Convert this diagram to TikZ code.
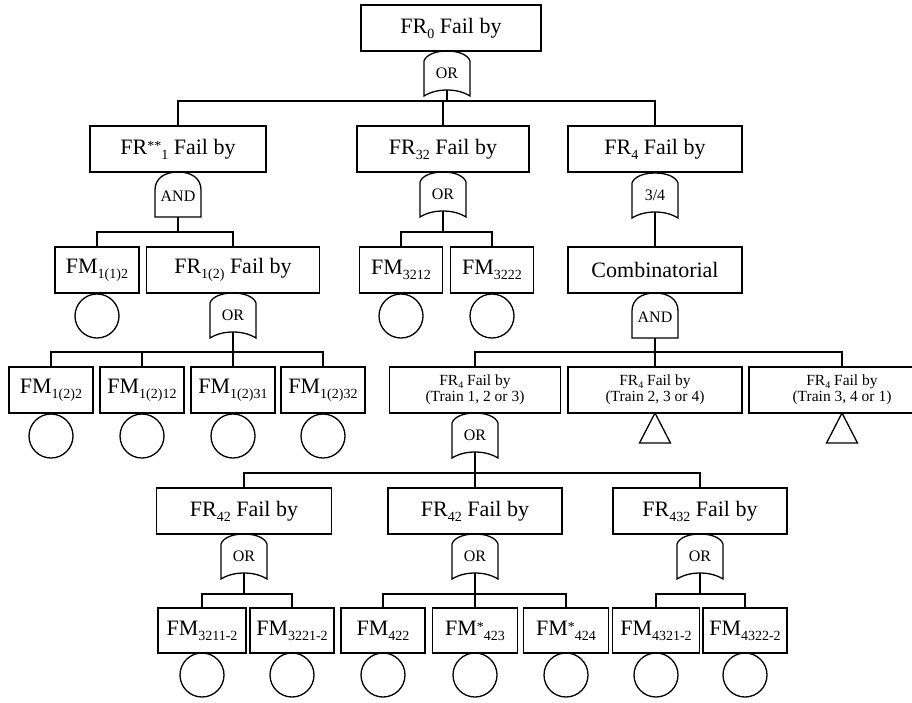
\documentclass[tikz,border=0pt]{standalone}
\usepackage{fontspec}
\setmainfont{Liberation Serif}
\newcommand\bigf{\fontsize{22}{26}\selectfont}
\newcommand\smf{\fontsize{15.5}{16.5}\selectfont}
\newcommand\gf{\fontsize{16}{16}\selectfont}
\newcommand\sbb[1]{\raisebox{-5pt}{\fontsize{14}{14}\selectfont #1}}
\newcommand\spb[1]{\raisebox{4pt}{\fontsize{14}{14}\selectfont #1}}
\newcommand\sbs[1]{\raisebox{-3.5pt}{\fontsize{10}{10}\selectfont #1}}
\tikzset{
 box/.style={draw, line width=1.3pt, minimum height=46pt, inner sep=0pt, font=\bigf},
 fmbox/.style={box, minimum height=45pt},
 sbox/.style={box, align=center, font=\smf},
 ev/.style={draw, circle, line width=1.3pt, minimum size=44pt, inner sep=0pt},
 glbl/.style={inner sep=0pt, minimum width=46pt, minimum height=34pt, font=\gf},
 gline/.style={line width=1.3pt, line join=miter},
 wire/.style={line width=1.3pt},
}
% OR-type gate: name, centre x, top y, label
\newcommand\orgate[4]{%
 \draw[gline] (#2-23,#3+45) -- (#2-23,#3+10)
   .. controls (#2-21,#3+4) and (#2-12,#3) .. (#2,#3)
   .. controls (#2+12,#3) and (#2+21,#3+4) .. (#2+23,#3+10)
   -- (#2+23,#3+45)
   .. controls (#2+15,#3+40) and (#2+6,#3+39) .. (#2,#3+39)
   .. controls (#2-6,#3+39) and (#2-15,#3+40) .. (#2-23,#3+45) -- cycle;
 \node[glbl] (#1) at (#2,#3+22) {#4};
}
% AND gate: name, centre x, top y
\newcommand\andgate[3]{%
 \draw[gline] (#2-23,#3+45) -- (#2-23,#3+18)
   .. controls (#2-23,#3+6) and (#2-13,#3) .. (#2,#3)
   .. controls (#2+13,#3) and (#2+23,#3+6) .. (#2+23,#3+18)
   -- (#2+23,#3+45) -- cycle;
 \node[glbl, minimum height=42pt] (#1) at (#2,#3+24) {AND};
}
% transfer triangle: name, apex x, apex y
\newcommand\transfer[3]{%
 \coordinate (#1) at (#2,#3);
 \draw[gline] (#1) -- ++(15.5,30) -- ++(-31,0) -- cycle;
}
\begin{document}
\begin{tikzpicture}[x=1pt,y=-1pt]
\useasboundingbox (0,0) rectangle (912,702);
\clip (0,0) rectangle (912,702);

% ---- level 0
\node[box, minimum width=180pt] (b0) at (451,28) {FR\sbb{0} Fail by};
\orgate{g0}{447}{51}{OR}
\coordinate (h0) at (447,101);

% ---- level 1
\node[box, minimum width=176pt] (b1) at (178,149) {FR\spb{**}\sbb{1} Fail by};
\node[box, minimum width=172pt] (b2) at (443,149) {FR\sbb{32} Fail by};
\node[box, minimum width=174pt] (b3) at (655,149) {FR\sbb{4} Fail by};
\draw[wire] (g0.south) -- (h0);
\draw[wire] (b1.north) |- (h0) -| (b3.north);
\draw[wire] (b2.north) -- (b2.north |- h0);
\andgate{g1}{178}{172}
\orgate{g2}{443}{172}{OR}
\orgate{g3}{655}{173}{3/4}

% ---- level 2
\coordinate (h1) at (178,232);
\coordinate (h2) at (443,232);
\node[box, minimum width=84pt] (a1) at (97,270) {FM\sbb{1(1)2}};
\node[ev] (e1) at (97,316) {};
\node[box, minimum width=173pt] (b12) at (233,270) {FR\sbb{1(2)} Fail by};
\node[box, minimum width=83pt] (a21) at (401,270) {FM\sbb{3212}};
\node[box, minimum width=83pt] (a22) at (492,270) {FM\sbb{3222}};
\node[ev] (e21) at (401,316) {};
\node[ev] (e22) at (492,316) {};
\node[box, minimum width=174pt] (comb) at (655,270) {Combinatorial};
\draw[wire] (g1.south) -- (h1);
\draw[wire] (a1.north) |- (h1) -| (b12.north);
\draw[wire] (g2.south) -- (h2);
\draw[wire] (a21.north) |- (h2) -| (a22.north);
\draw[wire] (g3.south) -- (comb.north);
\orgate{g12}{233}{293}{OR}
\andgate{g4}{655}{293}

% ---- level 3
\coordinate (h3) at (233,352);
\coordinate (h4) at (655,352);
\node[box, minimum width=84pt] (d1) at (51,390) {FM\sbb{1(2)2}};
\node[box, minimum width=84pt] (d2) at (142,390) {FM\sbb{1(2)12}};
\node[box, minimum width=84pt] (d3) at (233,390) {FM\sbb{1(2)31}};
\node[box, minimum width=84pt] (d4) at (323,390) {FM\sbb{1(2)32}};
\foreach \n/\x in {ed1/51, ed2/142, ed3/233, ed4/323}
  \node[ev] (\n) at (\x,436) {};
\draw[wire] (g12.south) -- (h3);
\draw[wire] (d1.north) |- (h3) -| (d4.north);
\draw[wire] (d2.north) -- (d2.north |- h3);
\draw[wire] (d3.north) -- (h3);

\node[sbox, minimum width=171pt] (t1) at (475,390) {FR\sbs{4} Fail by\\(Train 1, 2 or 3)};
\node[sbox, minimum width=174pt] (t2) at (655,390) {FR\sbs{4} Fail by\\(Train 2, 3 or 4)};
\node[sbox, minimum width=186pt] (t3) at (842,390) {FR\sbs{4} Fail by\\(Train 3, 4 or 1)};
\draw[wire] (g4.south) -- (h4);
\draw[wire] (t1.north) |- (h4) -| (t3.north);
\draw[wire] (t2.north) -- (h4);
\orgate{gt}{475}{413}{OR}
\transfer{tr2}{655}{413}
\transfer{tr3}{842}{413}

% ---- level 4
\coordinate (h5) at (475,473);
\node[box, minimum width=175pt] (f1) at (244,511) {FR\sbb{42} Fail by};
\node[box, minimum width=174pt] (f2) at (475,511) {FR\sbb{42} Fail by};
\node[box, minimum width=174pt] (f3) at (700,511) {FR\sbb{432} Fail by};
\draw[wire] (gt.south) -- (h5);
\draw[wire] (f1.north) |- (h5) -| (f3.north);
\draw[wire] (f2.north) -- (h5);
\orgate{gf1}{244}{534}{OR}
\orgate{gf2}{475}{534}{OR}
\orgate{gf3}{700}{534}{OR}

% ---- level 5
\coordinate (h6) at (244,594);
\coordinate (h7) at (475,594);
\coordinate (h8) at (700,594);
\node[fmbox, minimum width=88pt] (m1) at (202,630.5) {FM\sbb{3211-2}};
\node[fmbox, minimum width=84pt] (m2) at (292,630.5) {FM\sbb{3221-2}};
\node[fmbox, minimum width=84pt] (m3) at (383,630.5) {FM\sbb{422}};
\node[fmbox, minimum width=85pt] (m4) at (475,630.5) {FM\spb{*}\sbb{423}};
\node[fmbox, minimum width=85pt] (m5) at (566,630.5) {FM\spb{*}\sbb{424}};
\node[fmbox, minimum width=87pt] (m6) at (656,630.5) {FM\sbb{4321-2}};
\node[fmbox, minimum width=84pt] (m7) at (745,630.5) {FM\sbb{4322-2}};
\foreach \n/\x in {em1/202, em2/292, em3/383, em4/475, em5/566, em6/656, em7/745}
  \node[ev] (\n) at (\x,675) {};
\draw[wire] (gf1.south) -- (h6);
\draw[wire] (m1.north) |- (h6) -| (m2.north);
\draw[wire] (gf2.south) -- (h7);
\draw[wire] (m3.north) |- (h7) -| (m5.north);
\draw[wire] (m4.north) -- (h7);
\draw[wire] (gf3.south) -- (h8);
\draw[wire] (m6.north) |- (h8) -| (m7.north);
\end{tikzpicture}
\end{document}
